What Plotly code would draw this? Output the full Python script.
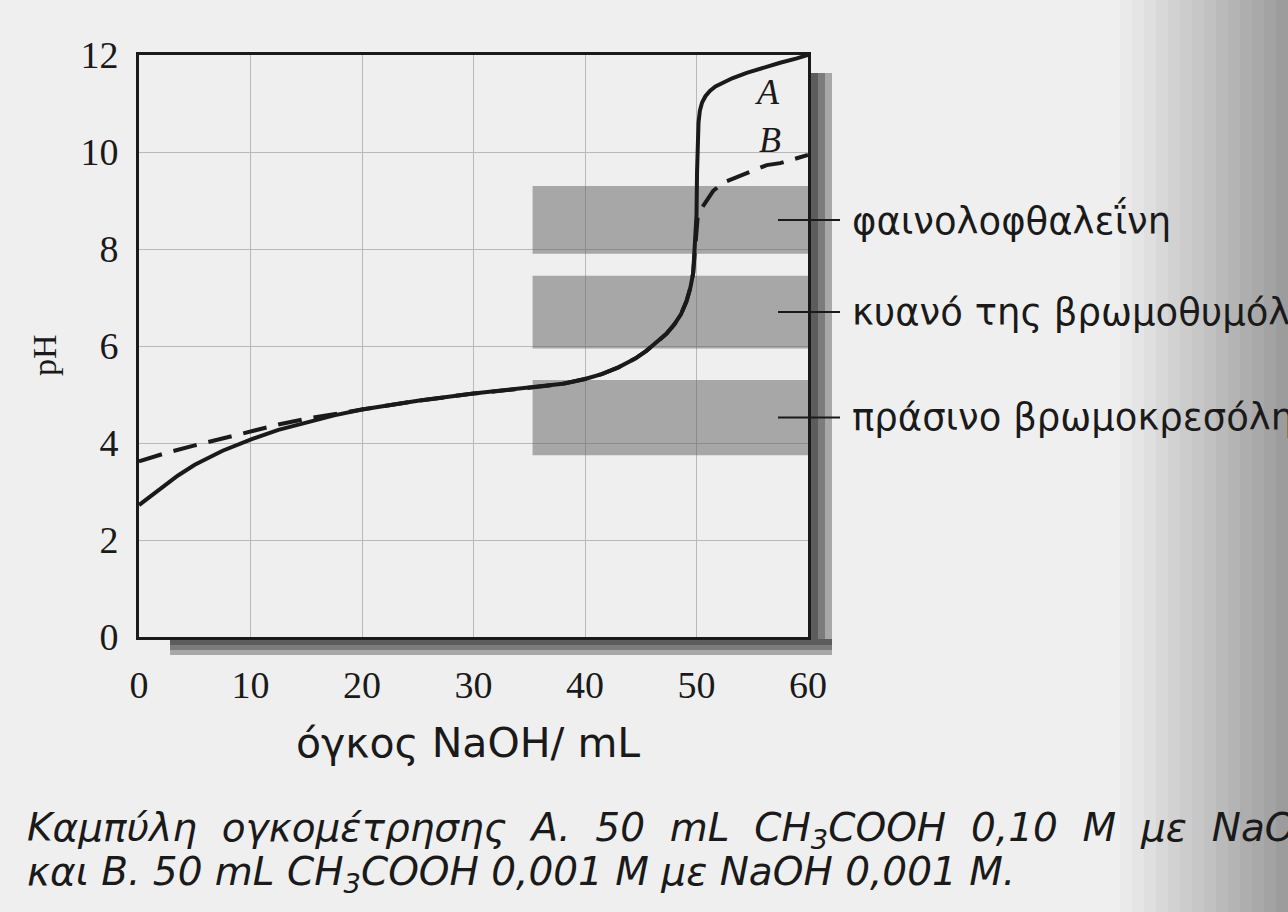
import plotly.graph_objects as go

# ---------------- data ----------------
vol_A = [0, 1, 2, 3.5, 5, 7.5, 10, 12.5, 15, 17.5, 20, 25, 30, 35, 38, 40, 41.5, 43, 44.5,
         45.5, 46.5, 47.3, 48.0, 48.6, 49.1, 49.45, 49.7, 49.85, 50.0, 50.05, 50.1,
         50.18, 50.3, 50.5, 50.8, 51.2, 51.7, 52.4, 53.2, 54.5, 56, 57.5, 59, 60]
pH_A = [2.72, 2.9, 3.07, 3.33, 3.55, 3.84, 4.07, 4.27, 4.42, 4.57, 4.69, 4.87, 5.02, 5.14,
        5.22, 5.32, 5.42, 5.56, 5.74, 5.9, 6.08, 6.25, 6.44, 6.65, 6.92, 7.2, 7.5, 7.98,
        8.7, 9.6, 10.25, 10.6, 10.85, 11.02, 11.15, 11.26, 11.35, 11.44, 11.52, 11.63,
        11.74, 11.84, 11.93, 12.0]

vol_B = [0, 2.5, 5, 7.5, 10, 12.5, 15, 17.5, 20, 25, 30, 35, 38, 40, 41.5, 43, 44.5,
         45.5, 46.5, 47.3, 48.0, 48.6, 49.1, 49.45, 49.7, 49.85, 50.0, 50.1, 50.4, 50.8,
         51.5, 52.5, 53.6, 55, 56.3, 57.5, 59, 60]
pH_B = [3.62, 3.8, 3.95, 4.1, 4.24, 4.38, 4.5, 4.6, 4.69, 4.87, 5.02, 5.14, 5.22, 5.32,
        5.42, 5.56, 5.74, 5.9, 6.08, 6.25, 6.44, 6.65, 6.92, 7.2, 7.5, 7.98, 8.45, 8.65,
        8.82, 8.97, 9.2, 9.38, 9.48, 9.62, 9.73, 9.77, 9.88, 9.94]

indicator_names = ["φαινολοφθαλεΐνη", "κυανό της βρωμοθυμόλης", "πράσινο βρωμοκρεσόλης"]
band_low = [7.9, 5.95, 3.75]
band_high = [9.3, 7.45, 5.3]
band_start = 35.3
band_end = 60

x_ticks = [0, 10, 20, 30, 40, 50, 60]
y_ticks = [0, 2, 4, 6, 8, 10, 12]

caption_lines = [
    "Καμπύλη ογκομέτρησης Α. 50 mL CH<sub>3</sub>COOH 0,10 M με NaOH 0,10 M.",
    "και Β. 50 mL CH<sub>3</sub>COOH 0,001 M με NaOH 0,001 M.",
]
caption_justify = [True, False]   # first line of the caption is justified (wider spacing)

# ---------------- layout geometry ----------------
W, H = 1288, 912
L, R, T, B = 139, 808, 55, 637   # plot area in pixels
PW, PH = R - L, B - T


def px(xp):
    return (xp - L) / PW


def py(yp):
    return (B - yp) / PH


BG = "#efefef"
INK = "#1a1a1a"

fig = go.Figure()
# indicator bands (semi-transparent so the grid shows through, as in the scan)
for lo, hi in zip(band_low, band_high):
    fig.add_trace(go.Scatter(
        x=[band_start, band_end, band_end, band_start, band_start],
        y=[lo, lo, hi, hi, lo], mode="lines", fill="toself",
        fillcolor="rgba(95,95,95,0.5)", line=dict(width=0), hoverinfo="skip"))

fig.add_trace(go.Scatter(x=vol_B, y=pH_B, mode="lines", name="B",
                         line=dict(color=INK, width=4, dash="24px,12px")))
fig.add_trace(go.Scatter(x=vol_A, y=pH_A, mode="lines", name="A",
                         line=dict(color=INK, width=4)))

shapes = []
# leader lines to indicator labels
for lo, hi in zip(band_low, band_high):
    mid = (lo + hi) / 2
    shapes.append(dict(type="line", xref="paper", yref="y", x0=px(778), x1=px(840),
                       y0=mid, y1=mid, line=dict(color=INK, width=2), layer="above"))

# drop shadow of the frame
shade = [("#5c5c5c", 0, 8), ("#7c7c7c", 8, 15), ("#a8a8a8", 15, 22)]
for col, a, b in shade:
    shapes.append(dict(type="rect", xref="paper", yref="paper",
                       x0=px(810 + a), x1=px(810 + b), y0=py(655), y1=py(73),
                       fillcolor=col, line=dict(width=0), layer="below"))
shade_b = [("#5c5c5c", 0, 6), ("#7c7c7c", 6, 11), ("#a8a8a8", 11, 16)]
for col, a, b in shade_b:
    shapes.append(dict(type="rect", xref="paper", yref="paper",
                       x0=px(170), x1=px(832), y0=py(639 + b), y1=py(639 + a),
                       fillcolor=col, line=dict(width=0), layer="below"))

# scanned-page darkening at the right edge
n = 14
for i in range(n):
    x0 = 1120 + i * 12
    shapes.append(dict(type="rect", xref="paper", yref="paper",
                       x0=px(x0), x1=px(x0 + 12), y0=py(H), y1=py(0),
                       fillcolor="rgb(110,110,110)", opacity=0.03 + 0.047 * i,
                       line=dict(width=0), layer="above"))

annotations = []
annotations.append(dict(x=56.4, y=11.24, xref="x", yref="y", text="<i>A</i>",
                        xanchor="center", yanchor="middle", showarrow=False,
                        font=dict(family="Liberation Serif", size=36, color=INK)))
annotations.append(dict(x=56.6, y=10.25, xref="x", yref="y", text="<i>B</i>",
                        xanchor="center", yanchor="middle", showarrow=False,
                        font=dict(family="Liberation Serif", size=36, color=INK)))
for name, lo, hi in zip(indicator_names, band_low, band_high):
    annotations.append(dict(x=px(850), y=(lo + hi) / 2, xref="paper", yref="y",
                            text=name, xanchor="left", yanchor="middle", showarrow=False,
                            font=dict(family="DejaVu Sans", size=37, color=INK)))
annotations.append(dict(x=px(45), y=py(355), xref="paper", yref="paper", text="pH",
                        textangle=-90, xanchor="center", yanchor="middle", showarrow=False,
                        font=dict(family="Liberation Serif", size=34, color=INK)))
annotations.append(dict(x=px(468), y=py(743), xref="paper", yref="paper",
                        text="όγκος NaOH/ mL", xanchor="center", yanchor="middle",
                        showarrow=False,
                        font=dict(family="DejaVu Sans", size=41, color=INK)))
for i, (line, just) in enumerate(zip(caption_lines, caption_justify)):
    txt = line.replace(" ", " \u00a0") if just else line
    annotations.append(dict(x=px(25), y=py(830 + 44 * i), xref="paper", yref="paper",
                            text="<i>" + txt + "</i>", xanchor="left", yanchor="middle",
                            showarrow=False,
                            font=dict(family="DejaVu Sans", size=39, color=INK)))

fig.update_layout(
    width=W, height=H,
    margin=dict(l=L, r=W - R, t=T, b=H - B, pad=0),
    paper_bgcolor=BG, plot_bgcolor=BG,
    showlegend=False,
    shapes=shapes, annotations=annotations,
)
fig.update_xaxes(range=[0, 60], tickvals=x_ticks, ticktext=[str(v) for v in x_ticks],
                 showgrid=True, gridcolor="#b8b8b8", gridwidth=1, zeroline=False,
                 showline=True, linecolor=INK, linewidth=3, mirror=True, ticks="",
                 tickfont=dict(family="Liberation Serif", size=38, color=INK),
                 ticklabelstandoff=12)
fig.update_yaxes(range=[0, 12], tickvals=y_ticks, ticktext=[str(v) for v in y_ticks],
                 showgrid=True, gridcolor="#b8b8b8", gridwidth=1, zeroline=False,
                 showline=True, linecolor=INK, linewidth=3, mirror=True, ticks="",
                 tickfont=dict(family="Liberation Serif", size=38, color=INK),
                 ticklabelstandoff=10)

fig.write_html("out.html")
